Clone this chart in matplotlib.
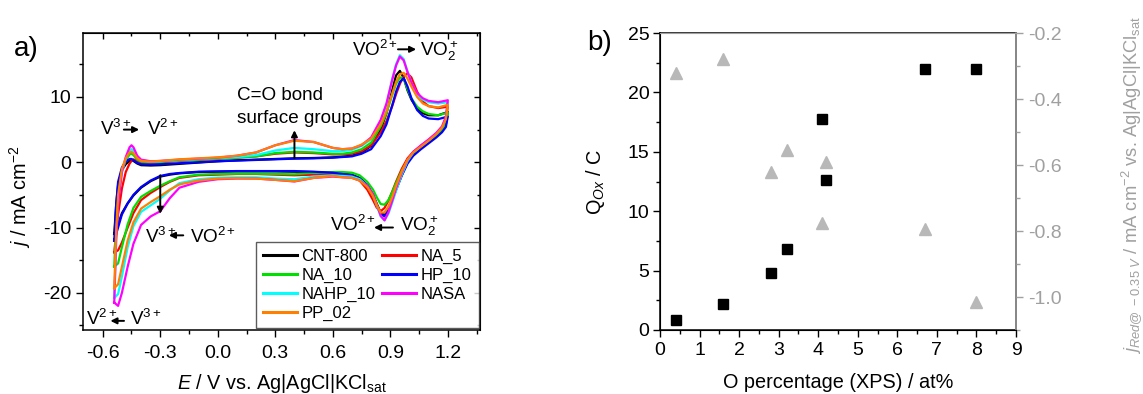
import matplotlib
matplotlib.use('Agg')
import matplotlib.pyplot as plt
from matplotlib.ticker import MultipleLocator, FormatStrFormatter

plt.rcParams['font.family'] = ['Liberation Sans', 'DejaVu Sans']
plt.rcParams['mathtext.fontset'] = 'custom'
plt.rcParams['mathtext.rm'] = 'Liberation Sans'
plt.rcParams['mathtext.it'] = 'Liberation Sans:italic'
plt.rcParams['mathtext.bf'] = 'Liberation Sans:bold'
plt.rcParams['mathtext.sf'] = 'Liberation Sans'
plt.rcParams['axes.unicode_minus'] = False

# ---------------- panel a: cyclic voltammograms ----------------
# potential grid of the anodic (forward) sweep, V
E_anodic = [-0.54, -0.53, -0.52, -0.50, -0.48, -0.46, -0.45, -0.44, -0.42, -0.40,
            -0.35, -0.30, -0.20, -0.10, 0.00, 0.10, 0.20, 0.30, 0.40, 0.50,
            0.60, 0.65, 0.70, 0.75, 0.80, 0.85, 0.88, 0.91, 0.93, 0.95,
            0.97, 0.99, 1.01, 1.04, 1.07, 1.10, 1.15, 1.20]
# potential grid of the cathodic (backward) sweep, V
E_cathodic = [1.20, 1.19, 1.17, 1.14, 1.10, 1.06, 1.02, 0.99, 0.96, 0.93,
              0.91, 0.89, 0.87, 0.85, 0.83, 0.81, 0.78, 0.74, 0.70, 0.65,
              0.60, 0.50, 0.40, 0.30, 0.20, 0.10, 0.00, -0.10, -0.20, -0.25,
              -0.30, -0.35, -0.40, -0.44, -0.47, -0.50, -0.52, -0.54]

# current densities, mA cm^-2
cnt800_an = [-11.0, -6.5, -3.5, -1.2, -0.3, 0.2, 0.3, 0.2, -0.2, -0.45,
             -0.5, -0.45, -0.25, -0.05, 0.15, 0.3, 0.4, 0.5, 0.6, 0.65,
             0.75, 0.85, 1.0, 1.5, 2.5, 5.0, 7.5, 11.0, 13.3, 14.0,
             12.9, 11.0, 9.6, 8.2, 7.5, 7.2, 7.2, 7.7]
cnt800_ca = [7.7, 5.8, 4.9, 4.0, 3.1, 2.2, 1.2, 0.0, -2.0, -4.2,
             -5.8, -7.3, -8.1, -7.7, -6.4, -5.0, -3.5, -2.4, -1.9, -1.7,
             -1.6, -1.5, -1.45, -1.4, -1.4, -1.4, -1.45, -1.5, -1.7, -1.9,
             -2.2, -2.9, -3.9, -5.1, -6.3, -7.8, -9.5, -11.0]

na5_an = [-13.8, -11.0, -8.0, -4.0, -1.5, -0.2, 0.2, 0.45, 0.2, 0.0,
          -0.05, 0.0, 0.2, 0.35, 0.5, 0.7, 0.9, 1.3, 1.5, 1.4,
          1.2, 1.2, 1.3, 1.7, 2.6, 4.6, 6.3, 8.6, 10.4, 12.0,
          13.2, 13.6, 13.0, 10.8, 9.3, 8.6, 8.3, 8.5]
na5_ca = [8.5, 6.3, 5.2, 4.3, 3.4, 2.5, 1.6, 0.6, -1.0, -3.0,
          -4.5, -5.9, -7.0, -7.5, -7.0, -5.8, -4.2, -2.8, -2.2, -2.0,
          -1.9, -1.9, -2.0, -1.9, -1.8, -1.8, -1.9, -2.0, -2.4, -3.0,
          -3.8, -4.7, -5.8, -7.8, -10.0, -12.3, -13.5, -13.8]

na10_an = [-16.0, -9.0, -4.5, -1.2, 0.3, 1.2, 1.3, 1.1, 0.4, 0.1,
           0.0, 0.05, 0.25, 0.4, 0.55, 0.7, 0.9, 1.4, 1.6, 1.5,
           1.3, 1.3, 1.5, 2.0, 3.0, 5.5, 7.5, 10.3, 12.0, 13.0,
           12.8, 11.2, 9.8, 8.5, 7.8, 7.4, 7.2, 7.6]
na10_ca = [7.6, 5.8, 4.9, 4.1, 3.2, 2.3, 1.4, 0.3, -1.3, -3.2,
           -4.6, -5.8, -6.5, -6.4, -5.4, -4.2, -3.0, -2.0, -1.6, -1.5,
           -1.5, -1.6, -1.85, -1.8, -1.75, -1.75, -1.8, -1.9, -2.3, -2.9,
           -3.6, -4.4, -5.3, -7.0, -9.5, -13.0, -15.5, -16.0]

hp10_an = [-12.0, -6.5, -3.0, -0.8, 0.1, 0.5, 0.5, 0.3, -0.1, -0.3,
           -0.35, -0.3, -0.15, 0.0, 0.15, 0.25, 0.35, 0.45, 0.55, 0.6,
           0.7, 0.8, 0.9, 1.3, 2.0, 4.0, 5.8, 8.7, 10.8, 12.3,
           12.9, 11.6, 9.8, 8.0, 7.1, 6.7, 6.6, 7.0]
hp10_ca = [7.0, 5.4, 4.6, 3.8, 2.9, 2.0, 1.0, -0.2, -2.0, -4.2,
           -5.8, -7.3, -8.3, -7.9, -6.6, -5.0, -3.5, -2.5, -2.0, -1.8,
           -1.6, -1.45, -1.35, -1.35, -1.35, -1.35, -1.4, -1.45, -1.65, -1.8,
           -2.1, -2.8, -3.8, -5.0, -6.3, -8.0, -10.0, -12.0]

nahp10_an = [-20.8, -11.5, -6.0, -1.5, 0.5, 1.8, 2.0, 1.8, 0.8, 0.3,
             0.1, 0.15, 0.35, 0.5, 0.65, 0.8, 1.1, 1.8, 2.2, 2.0,
             1.7, 1.7, 1.9, 2.5, 3.5, 6.3, 8.8, 12.8, 15.0, 16.4,
             15.8, 13.9, 12.2, 10.4, 9.6, 9.2, 9.0, 9.2]
nahp10_ca = [9.2, 6.8, 5.4, 4.4, 3.4, 2.5, 1.5, 0.2, -1.9, -4.4,
             -6.2, -7.9, -8.9, -8.3, -6.7, -5.1, -3.6, -2.6, -2.2, -2.1,
             -2.0, -2.2, -2.6, -2.5, -2.3, -2.3, -2.35, -2.6, -3.2, -4.3,
             -5.6, -6.6, -7.6, -9.8, -13.0, -17.5, -20.2, -20.8]

nasa_an = [-21.5, -12.0, -6.5, -1.5, 0.8, 2.3, 2.6, 2.3, 1.0, 0.4,
           0.15, 0.2, 0.4, 0.55, 0.7, 1.0, 1.5, 2.6, 3.4, 3.1,
           2.2, 2.0, 2.1, 2.6, 3.8, 6.5, 9.0, 12.6, 14.8, 16.2,
           15.6, 13.8, 12.2, 10.6, 9.8, 9.4, 9.2, 9.5]
nasa_ca = [9.5, 7.0, 5.5, 4.5, 3.5, 2.6, 1.6, 0.4, -1.6, -4.0,
           -5.9, -7.7, -8.9, -8.2, -6.5, -4.9, -3.6, -2.8, -2.4, -2.3,
           -2.2, -2.4, -2.95, -2.7, -2.5, -2.5, -2.6, -3.0, -3.9, -5.5,
           -7.5, -8.3, -9.6, -12.5, -16.0, -20.0, -22.0, -21.5]

pp02_an = [-19.3, -10.5, -5.0, -1.0, 0.6, 1.5, 1.6, 1.4, 0.6, 0.2,
           0.1, 0.2, 0.45, 0.6, 0.75, 1.0, 1.5, 2.6, 3.3, 3.1,
           2.2, 2.0, 2.1, 2.7, 3.6, 5.8, 7.8, 10.5, 12.3, 13.5,
           13.7, 12.8, 11.6, 10.0, 9.0, 8.6, 8.4, 8.8]
pp02_ca = [8.8, 6.6, 5.3, 4.3, 3.3, 2.4, 1.5, 0.4, -1.4, -3.6,
           -5.3, -6.8, -7.7, -7.7, -6.6, -5.2, -3.8, -2.8, -2.4, -2.3,
           -2.1, -2.4, -2.9, -2.7, -2.5, -2.45, -2.5, -2.8, -3.4, -4.2,
           -5.2, -6.1, -7.1, -9.2, -12.0, -16.0, -18.7, -19.3]

samples = ['CNT-800', 'NA_5', 'NA_10', 'HP_10', 'NAHP_10', 'NASA', 'PP_02']
colors = ['#000000', '#ff0000', '#00e000', '#0000ff', '#00ffff', '#ff00ff', '#ff8000']
anodic = [cnt800_an, na5_an, na10_an, hp10_an, nahp10_an, nasa_an, pp02_an]
cathodic = [cnt800_ca, na5_ca, na10_ca, hp10_ca, nahp10_ca, nasa_ca, pp02_ca]

# ---------------- panel b: charge and reduction current vs. oxygen content ----------------
o_percent = [0.4, 1.6, 2.8, 3.2, 4.1, 4.2, 6.7, 8.0]
q_ox = [0.8, 2.2, 4.8, 6.8, 17.8, 12.6, 22.0, 22.0]
j_red = [-0.32, -0.28, -0.62, -0.555, -0.775, -0.59, -0.795, -1.015]

W, H = 1143, 394
fig = plt.figure(figsize=(W / 100, H / 100), dpi=100)
FS = 14      # tick labels
LFS = 14.3   # axis labels
AFS = 13.6   # annotations

ax = fig.add_axes([83 / W, 1 - 330 / H, 397 / W, 297 / H])
for name, col, an, ca in zip(samples, colors, anodic, cathodic):
    ax.plot(E_anodic + E_cathodic[1:], an + ca[1:], color=col, lw=1.6,
            solid_joinstyle='round', label=name)

ax.set_xlim(-0.703, 1.368)
ax.set_ylim(-25.7, 19.8)
ax.xaxis.set_major_locator(MultipleLocator(0.3))
ax.xaxis.set_minor_locator(MultipleLocator(0.15))
ax.yaxis.set_major_locator(MultipleLocator(10))
ax.yaxis.set_minor_locator(MultipleLocator(5))
ax.tick_params(which='both', direction='out', labelsize=FS, width=1)
ax.tick_params(which='major', length=5)
ax.tick_params(which='minor', length=3)
ax.tick_params(axis='x', which='both', pad=6)
ax.xaxis.set_major_formatter(FormatStrFormatter('%.1f'))
for s in ax.spines.values():
    s.set_linewidth(1.1)

top = ax.secondary_xaxis('top')
top.xaxis.set_major_locator(MultipleLocator(0.3))
top.xaxis.set_minor_locator(MultipleLocator(0.15))
top.tick_params(which='both', direction='in', labeltop=False, width=1)
top.tick_params(which='major', length=4)
top.tick_params(which='minor', length=2.5)
rgt = ax.secondary_yaxis('right')
rgt.yaxis.set_major_locator(MultipleLocator(10))
rgt.yaxis.set_minor_locator(MultipleLocator(5))
rgt.tick_params(which='both', direction='in', labelright=False, width=1)
rgt.tick_params(which='major', length=4)
rgt.tick_params(which='minor', length=2.5)

ax.set_xlabel(r'$E$ / V vs. Ag|AgCl|KCl$_{\mathrm{sat}}$', fontsize=LFS, labelpad=7)
ax.set_ylabel(r'$j$ / mA cm$^{-2}$', fontsize=LFS)
ax.yaxis.set_label_coords(-0.126, 0.45)

order = [0, 2, 4, 6, 1, 3, 5]
h, l = ax.get_legend_handles_labels()
leg = ax.legend([h[i] for i in order], [l[i] for i in order], ncol=2,
                loc='upper left', bbox_to_anchor=(0.435, 0.297), borderaxespad=0,
                fontsize=12, frameon=True, fancybox=False, handlelength=2.0,
                handletextpad=0.3, columnspacing=0.4, labelspacing=0.22,
                borderpad=0.45)
leg.get_frame().set_edgecolor('#333333')
leg.get_frame().set_linewidth(1.0)
for ln in leg.get_lines():
    ln.set_linewidth(2.2)

def label(x, y, s):
    ax.text(x, y, s, fontsize=AFS, ha='left', va='baseline')

def arrow(x0, y0, x1, y1):
    ax.annotate('', xy=(x1, y1), xytext=(x0, y0),
                arrowprops=dict(arrowstyle='-|>', color='k', lw=1.4,
                                mutation_scale=9, shrinkA=0, shrinkB=0))

# V(IV) -> V(V) oxidation
label(0.699, 16.3, r'VO$^{2+}$')
arrow(0.94, 17.3, 1.035, 17.3)
label(1.055, 16.3, r'VO$_2^+$')
# oxygen functional groups
label(0.098, 9.6, 'C=O bond')
label(0.098, 6.0, 'surface groups')
arrow(0.40, 0.65, 0.40, 4.9)
# V(II) -> V(III) oxidation
label(-0.614, 4.1, r'V$^{3+}$')
arrow(-0.49, 5.0, -0.41, 5.0)
label(-0.37, 4.1, r'V$^{2+}$')
# enhanced reduction current
arrow(-0.30, -2.0, -0.30, -7.9)
label(-0.38, -12.3, r'V$^{3+}$')
arrow(-0.18, -11.2, -0.255, -11.2)
label(-0.145, -12.3, r'VO$^{2+}$')
# V(V) -> V(IV) reduction
label(0.586, -10.6, r'VO$^{2+}$')
arrow(0.914, -10.0, 0.815, -10.0)
label(0.951, -10.6, r'VO$_2^+$')
# V(III) -> V(II) reduction
label(-0.688, -25.0, r'V$^{2+}$')
arrow(-0.489, -24.3, -0.56, -24.3)
label(-0.458, -25.0, r'V$^{3+}$')

fig.text(14 / W, 1 - 56 / H, 'a)', fontsize=20, ha='left', va='baseline')

# ---------------- panel b ----------------
bx = fig.add_axes([660 / W, 1 - 330 / H, 356 / W, 297 / H])
gray = '#a0a0a0'
bx.plot(o_percent, q_ox, 's', color='k', ms=7, zorder=3)
bx.set_xlim(0, 9)
bx.set_ylim(0, 25)
bx.xaxis.set_major_locator(MultipleLocator(1))
bx.xaxis.set_minor_locator(MultipleLocator(0.5))
bx.yaxis.set_major_locator(MultipleLocator(5))
bx.yaxis.set_minor_locator(MultipleLocator(2.5))
bx.tick_params(which='both', direction='out', labelsize=FS, width=1)
bx.tick_params(which='major', length=5)
bx.tick_params(which='minor', length=3)
bx.tick_params(axis='y', which='both', pad=2.5)
bx.set_xlabel('O percentage (XPS) / at%', fontsize=LFS, labelpad=10)
bx.set_ylabel(r'Q$_{\mathit{Ox}}$ / C', fontsize=LFS)
bx.yaxis.set_label_coords(-0.149, 0.5)
for s in bx.spines.values():
    s.set_linewidth(1.1)

br = bx.twinx()
br.plot(o_percent, j_red, '^', color='#b8b8b8', ms=8, zorder=3)
br.set_ylim(-1.1, -0.2)
br.yaxis.set_major_locator(MultipleLocator(0.2))
br.yaxis.set_minor_locator(MultipleLocator(0.1))
br.yaxis.set_major_formatter(FormatStrFormatter('%.1f'))
br.tick_params(which='both', direction='out', labelsize=FS, width=1,
               colors=gray)
br.tick_params(which='major', length=5)
br.tick_params(which='minor', length=3)
br.spines['right'].set_color(gray)
br.spines['right'].set_linewidth(1.1)
br.spines['top'].set_color(gray)
br.set_ylabel(r'$j_{\mathit{Red@\ -0.35\ V}}$ / mA cm$^{-2}$ vs. Ag|AgCl|KCl$_{\mathrm{sat}}$',
              fontsize=13.2, color=gray, rotation=90)
br.yaxis.set_label_coords(1.29, 0.49)

fig.text(587 / W, 1 - 50 / H, 'b)', fontsize=20, ha='left', va='baseline')

fig.savefig('out.png', dpi=100)
